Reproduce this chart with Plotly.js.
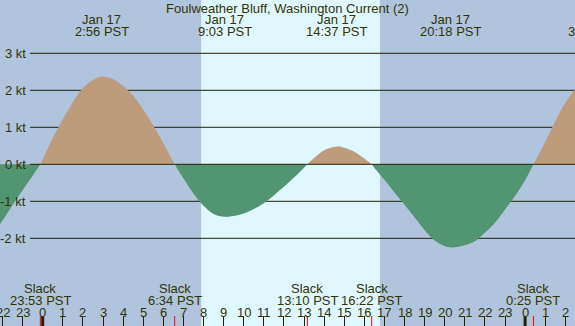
<!DOCTYPE html>
<html>
<head>
<meta charset="utf-8">
<script src="https://cdn.plot.ly/plotly-3.0.1.min.js"></script>
<style>html,body{margin:0;padding:0;background:#B0C4DE;}#chart{width:575px;height:326px;}</style>
</head>
<body>
<div id="chart"></div>
<script>
// ---- data (hours since midnight Jan 17 PST, current in knots) ----
const hours = [-2.5, -2, -1.5, -1, -0.5, -0.117,
  0, 0.5, 1, 1.5, 2, 2.5, 2.95, 3.5, 4, 4.5, 5, 5.5, 6, 6.567,
  7, 7.5, 8, 8.5, 9.05, 9.5, 10, 10.5, 11, 11.5, 12, 12.5, 13, 13.167,
  13.5, 14, 14.617, 15, 15.5, 16, 16.367,
  16.5, 17, 17.5, 18, 18.5, 19, 19.5, 20, 20.4, 21, 21.5, 22, 22.5, 23, 23.5, 24, 24.417,
  25, 25.5, 26, 26.5, 27];
const knots = [-1.88, -1.52, -1.1, -0.7, -0.31, 0,
  0.13, 0.71, 1.22, 1.68, 2.06, 2.28, 2.37, 2.30, 2.12, 1.85, 1.48, 1.05, 0.57, 0,
  -0.38, -0.79, -1.12, -1.34, -1.42, -1.40, -1.33, -1.21, -1.05, -0.84, -0.61, -0.36, -0.09, 0,
  0.17, 0.38, 0.48, 0.45, 0.34, 0.16, 0,
  -0.09, -0.42, -0.76, -1.09, -1.43, -1.78, -2.06, -2.21, -2.25, -2.19, -2.08, -1.85, -1.58, -1.22, -0.86, -0.43, 0,
  0.6, 1.17, 1.66, 2.04, 2.3];

const slackTimes = [-0.117, 6.567, 13.167, 16.367, 24.417];
const slackLabels = ['23:53 PST', '6:34 PST', '13:10 PST', '16:22 PST', '0:25 PST'];
const maxTimes = [2.933, 9.05, 14.617, 20.3, 27.5];
const maxDates = ['Jan 17', 'Jan 17', 'Jan 17', 'Jan 17', 'Jan 18'];
const maxLabels = ['2:56 PST', '9:03 PST', '14:37 PST', '20:18 PST', '3:30 PST'];
const hourTicks = [-2, -1, 0, 1, 2, 3, 4, 5, 6, 7, 8, 9, 10, 11, 12, 13, 14, 15, 16, 17, 18, 19, 20, 21, 22, 23, 24, 25, 26];
const hourLabels = ['22', '23', '0', '1', '2', '3', '4', '5', '6', '7', '8', '9', '10', '11', '12', '13', '14', '15', '16', '17', '18', '19', '20', '21', '22', '23', '0', '1', '2'];
const knotTicks = [-2, -1, 0, 1, 2, 3];
const knotLabels = ['-2 kt', '-1 kt', '0 kt', '1 kt', '2 kt', '3 kt'];
const midnights = [0, 24];
const sunrise = 7.88, sunset = 16.78;
const titleText = 'Foulweather Bluff, Washington Current (2)';

// ---- styling ----
const W = 575, H = 326;
const X0 = -42.7 / 20.1, X1 = (W - 42.7) / 20.1;
const Y1 = 164.3 / 37, Y0 = (164.3 - H) / 37;
const FONT = 'Liberation Sans, Arial, sans-serif';
const TXT = '#333300';
const LINE = '#222200';
const FLOOD = '#BD9B7B', EBB = '#519572';
const NIGHT = '#B0C4DE', DAY = '#DFF7FF';
const py = p => 1 - p / H;
const px = x => (x - X0) / (X1 - X0);

// split the curve at slack (zero) points into flood / ebb segments
const traces = [];
let start = 0;
for (let i = 1; i < hours.length; i++) {
  if (knots[i] === 0 || i === hours.length - 1) {
    const xs = hours.slice(start, i + 1), ys = knots.slice(start, i + 1);
    const s = ys.reduce((a, b) => a + b, 0);
    traces.push({
      x: xs, y: ys, type: 'scatter', mode: 'lines',
      line: {shape: 'spline', smoothing: 1, width: 0},
      fill: 'tozeroy', fillcolor: s > 0 ? FLOOD : EBB, hoverinfo: 'skip'
    });
    start = i;
  }
}

const shapes = [];
shapes.push({type: 'rect', xref: 'x', yref: 'paper', x0: sunrise, x1: sunset, y0: 0, y1: 1,
  fillcolor: DAY, line: {width: 0}, layer: 'below'});
knotTicks.forEach(k => {
  shapes.push({type: 'line', xref: 'paper', yref: 'y', x0: 30 / W, x1: 1, y0: k, y1: k,
    line: {color: LINE, width: 1}, layer: k === 0 ? 'above' : 'below'});
});
slackTimes.forEach(t => {
  shapes.push({type: 'line', xref: 'x', yref: 'paper', x0: t, x1: t, y0: 0, y1: 10 / H,
    line: {color: '#FF0000', width: 1}, layer: 'above'});
});
midnights.forEach(t => {
  shapes.push({type: 'line', xref: 'x', yref: 'paper', x0: t, x1: t, y0: 0, y1: 10 / H,
    line: {color: LINE, width: 3}, layer: 'above'});
});

const annotations = [];
const f = {family: FONT, size: 13, color: TXT};
knotTicks.forEach((k, i) => {
  annotations.push({xref: 'paper', yref: 'y', x: 28 / W, y: k, xanchor: 'right', yanchor: 'middle',
    text: knotLabels[i], showarrow: false, font: f});
});
maxTimes.forEach((t, i) => {
  annotations.push({xref: 'paper', yref: 'paper', x: px(t), y: py(20), xanchor: 'center', yanchor: 'middle',
    text: maxDates[i], showarrow: false, font: f});
  annotations.push({xref: 'paper', yref: 'paper', x: px(t), y: py(32), xanchor: 'center', yanchor: 'middle',
    text: maxLabels[i], showarrow: false, font: f});
});
slackTimes.forEach((t, i) => {
  annotations.push({xref: 'paper', yref: 'paper', x: px(t), y: py(288), xanchor: 'center', yanchor: 'middle',
    text: 'Slack', showarrow: false, font: f});
  annotations.push({xref: 'paper', yref: 'paper', x: px(t), y: py(300), xanchor: 'center', yanchor: 'middle',
    text: slackLabels[i], showarrow: false, font: f});
});
hourTicks.forEach((h, i) => {
  annotations.push({xref: 'paper', yref: 'paper', x: px(h), y: py(312), xanchor: 'center', yanchor: 'middle',
    text: hourLabels[i], showarrow: false, font: f});
});

const layout = {
  width: W, height: H,
  margin: {l: 0, r: 0, t: 0, b: 0, pad: 0},
  paper_bgcolor: NIGHT, plot_bgcolor: 'rgba(0,0,0,0)',
  showlegend: false,
  title: {text: titleText, font: f, x: 0.5, xanchor: 'center', y: py(8), yanchor: 'middle', xref: 'paper', yref: 'paper'},
  xaxis: {
    range: [X0, X1], fixedrange: true,
    tickmode: 'array', tickvals: hourTicks,
    ticks: 'inside', ticklen: 10, tickwidth: 1, tickcolor: LINE,
    showticklabels: false, showgrid: false, zeroline: false, showline: false
  },
  yaxis: {range: [Y0, Y1], fixedrange: true, showticklabels: false, ticks: '',
    showgrid: false, zeroline: false, showline: false},
  shapes: shapes,
  annotations: annotations
};

Plotly.newPlot('chart', traces, layout, {displayModeBar: false, staticPlot: true});
</script>
</body>
</html>
